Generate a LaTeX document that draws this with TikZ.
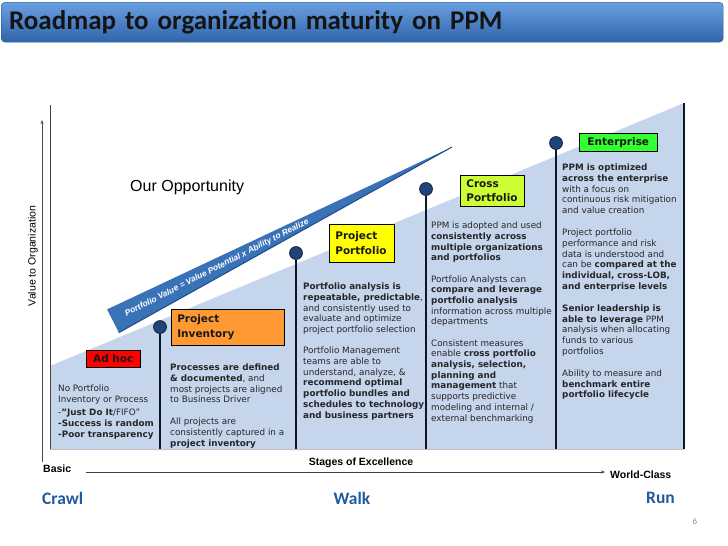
\documentclass[tikz,border=0pt]{standalone}
\usepackage{fontspec}
\setmainfont{DejaVu Sans}
\newfontfamily\arialfont{Liberation Sans}
\newfontfamily\calibrifont[Ligatures=NoCommon]{Carlito}
\usepackage{xcolor}
\usetikzlibrary{arrows.meta, positioning}

\definecolor{planblue}{HTML}{C5D5EB}
\definecolor{polecol}{HTML}{0E1726}
\definecolor{dotblue}{HTML}{1F4478}
\definecolor{bandblue}{HTML}{3A72B8}
\definecolor{bandedge}{HTML}{1C4A86}
\definecolor{paceblue}{HTML}{1F5A9E}
\definecolor{titletop}{HTML}{6A9FE0}
\definecolor{titlebot}{HTML}{2F64AA}
\definecolor{titleedge}{HTML}{24508C}
\definecolor{adhocred}{HTML}{FF0000}
\definecolor{invorange}{HTML}{FF9933}
\definecolor{portyellow}{HTML}{FFFF00}
\definecolor{crosslime}{HTML}{CCFF33}
\definecolor{entgreen}{HTML}{33FF33}

\newcommand{\colfont}{\fontsize{8.8}{10.7}\selectfont}
\newcommand{\boxfont}{\bfseries\fontsize{10.5}{14.5}\selectfont}

\begin{document}
\begin{tikzpicture}[x=1pt, y=-1pt, >={Stealth[length=4pt, width=3pt]},
    stagebox/.style={draw, line width=0.6pt, anchor=north west, inner sep=0pt, font=\boxfont, text=black!90},
    coltext/.style={anchor=north west, align=left, inner sep=0pt, font=\colfont, text=black!85},
    poledot/.style={circle, draw=polecol, line width=0.6pt, fill=dotblue, minimum size=13pt, inner sep=0pt},
    pole/.style={draw=polecol, line width=2.8pt},
    axislabel/.style={inner sep=0pt, font=\arialfont\bfseries\fontsize{10.5}{12}\selectfont},
    pace/.style={inner sep=0pt, text=paceblue, font=\calibrifont\bfseries\fontsize{17.5}{20}\selectfont}]

  \useasboundingbox (0,0) rectangle (728,546);

  \node[draw=titleedge, line width=0.4pt, rounded corners=4pt, top color=titletop, bottom color=titlebot,
        anchor=north west, minimum height=40pt, text width=706pt, inner xsep=8pt, align=left,
        font=\calibrifont\bfseries\fontsize{27}{30}\selectfont, text=black!92]
        (title) at (1,2) {Roadmap to organization maturity on PPM};

  \fill[planblue] (50,366) -- (684,103) -- (684,449) -- (50,449) -- cycle;
  \draw[black!25, line width=0.6pt] (50,449) -- (684,449);
  \draw[black!75, line width=0.9pt] (50,105) -- (50,449);
  \draw[polecol, line width=2.2pt] (684,103) -- (684,449);

  \foreach \px/\py/\nm in {160/327/inv, 296/253/port, 426/189/cross, 556/143/ent}{
    \coordinate (foot\nm) at (\px,449);
    \node[poledot] (dot\nm) at (\px,\py) {};
    \draw[pole] (dot\nm.south) -- (foot\nm);
  }

  \coordinate (bandtop) at (107.1,309.4);
  \coordinate (bandbot) at (118.9,332.6);
  \coordinate (bandtip) at (452,147);
  \fill[bandblue] (bandtop) -- (bandtip) -- (bandbot) -- cycle;
  \draw[bandedge, line width=1pt] (bandbot) -- (bandtip);
  \node[rotate=27, inner sep=0pt, text=white, font=\arialfont\bfseries\itshape\fontsize{8.4}{9}\selectfont]
        (formula) at (217,268) {Portfolio Value = Value Potential x Ability to Realize};

  \node[anchor=west, inner sep=0pt, font=\arialfont\fontsize{16}{18}\selectfont] (opportunity) at (130,187) {Our Opportunity};

  \coordinate (vstart) at (42,462);
  \coordinate (vend) at (42,120);
  \draw[->, black!70, line width=0.5pt] (vstart) -- (vend);
  \node[rotate=90, inner sep=0pt, font=\arialfont\fontsize{10.5}{12}\selectfont] (valueaxis) at (33,256) {Value to Organization};

  \node[stagebox, fill=adhocred, minimum width=54pt, minimum height=17pt] (adhoc) at (86,350) {Ad hoc};
  \node[stagebox, fill=invorange, text width=101pt, inner xsep=6pt, align=left, minimum height=36pt]
        (inventory) at (171,309) {Project\\Inventory};
  \node[stagebox, fill=portyellow, text width=53pt, inner xsep=6pt, align=left, minimum height=38pt]
        (portfolio) at (329,224) {Project\\Portfolio};
  \node[stagebox, fill=crosslime, text width=52pt, inner xsep=6pt, align=left, minimum height=31pt]
        (crossport) at (460,175) {Cross\\Portfolio};
  \node[stagebox, fill=entgreen, minimum width=78pt, minimum height=18pt] (enterprise) at (579,133) {Enterprise};

  \node[coltext] (adhoctext) at (58,385)
        {No Portfolio\\Inventory or Process\\[2.5pt]-\textbf{"Just Do It}/FIFO"\\\textbf{-Success is random}\\\textbf{-Poor transparency}};
  \node[coltext] (invtext) at (170,364)
        {\textbf{Processes are defined}\\\textbf{\& documented}, and\\most projects are aligned\\to Business Driver\\[11pt]All projects are\\consistently captured in a\\\textbf{project inventory}};
  \node[coltext] (porttext) at (303,283)
        {\textbf{Portfolio analysis is}\\\textbf{repeatable, predictable},\\and consistently used to\\evaluate and optimize\\project portfolio selection\\[10.5pt]Portfolio Management\\teams are able to\\understand, analyze, \&\\\textbf{recommend optimal}\\\textbf{portfolio bundles and}\\\textbf{schedules to technology}\\\textbf{and business partners}};
  \node[coltext] (crosstext) at (431,222)
        {PPM is adopted and used\\\textbf{consistently across}\\\textbf{multiple organizations}\\\textbf{and portfolios}\\[10.5pt]Portfolio Analysts can\\\textbf{compare and leverage}\\\textbf{portfolio analysis}\\information across multiple\\departments\\[10.5pt]Consistent measures\\enable \textbf{cross portfolio}\\\textbf{analysis, selection,}\\\textbf{planning and}\\\textbf{management} that\\supports predictive\\modeling and internal /\\external benchmarking};
  \node[coltext] (enttext) at (562,164)
        {\textbf{PPM is optimized}\\\textbf{across the enterprise}\\with a focus on\\continuous risk mitigation\\and value creation\\[11.5pt]Project portfolio\\performance and risk\\data is understood and\\can be \textbf{compared at the}\\\textbf{individual, cross-LOB,}\\\textbf{and enterprise levels}\\[11.5pt]\textbf{Senior leadership is}\\\textbf{able to leverage} PPM\\analysis when allocating\\funds to various\\portfolios\\[11.5pt]Ability to measure and\\\textbf{benchmark entire}\\\textbf{portfolio lifecycle}};

  \node[axislabel, anchor=west] (basic) at (43,469) {Basic};
  \node[axislabel] (stages) at (361,463) {Stages of Excellence};
  \node[axislabel, anchor=west] (worldclass) at (610,475) {World-Class};
  \coordinate (hstart) at (86,472);
  \coordinate (hend) at (605,472);
  \draw[->, black!75, line width=0.5pt] (hstart) -- (hend);

  \node[pace, anchor=west] (crawl) at (42,498) {Crawl};
  \node[pace] (walk) at (352,498) {Walk};
  \node[pace, anchor=east] (run) at (675,498) {Run};
  \node[inner sep=0pt, text=black!45, font=\calibrifont\fontsize{9}{10}\selectfont] (pagenum) at (695,521) {6};
\end{tikzpicture}
\end{document}
